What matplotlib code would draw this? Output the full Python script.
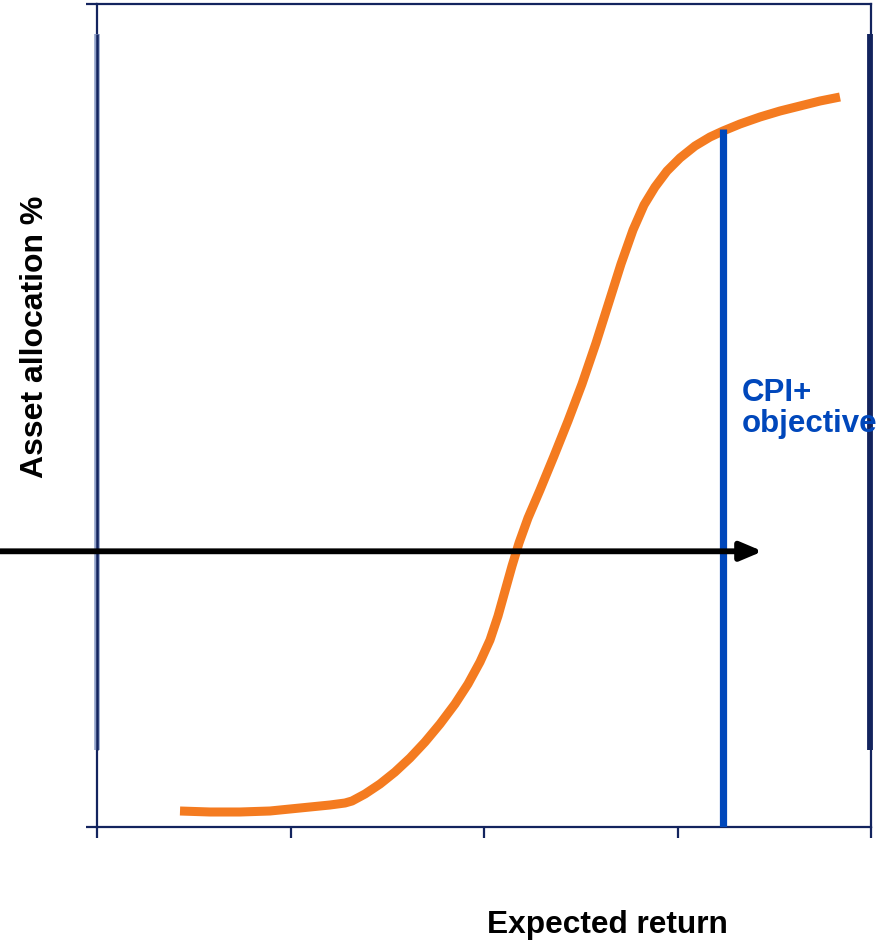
import matplotlib
matplotlib.use("Agg")
import matplotlib.pyplot as plt

# Axis scale: x 0..4 (expected return), y 0..100 (asset allocation %)
X0, X1, PX_PER_X = 97, 871, 193.5
Y0, Y1 = 827, 4

# S-shaped allocation curve, read as pixel positions on the chart
curve_px = [180, 210, 240, 270, 300, 330, 345, 352, 365, 380, 395, 410, 425, 440, 455, 468,
            480, 490, 498, 505, 512, 519, 528, 540, 554, 568, 582, 596, 609, 621, 633, 644,
            655, 667, 680, 695, 710, 723, 740, 760, 780, 800, 820, 840]
curve_py = [811, 812, 812, 811, 808, 805, 803, 801, 794, 784, 772, 758, 742, 724, 704, 684,
            662, 640, 616, 591, 566, 543, 518, 490, 456, 421, 384, 343, 302, 264, 230, 205,
            187, 171, 158, 146, 137, 131, 124, 117, 111, 106, 101, 97]
curve_x = [(p - X0) / PX_PER_X for p in curve_px]
curve_y = [(Y0 - p) / (Y0 - Y1) * 100 for p in curve_py]

cpi_x = 3.235
cpi_top = 84.8
arrow_y = 33.5
arrow_start, arrow_end = -0.5, 3.44

x_ticks = [0, 1, 2, 3, 4]
y_ticks = [0, 100]

navy = "#13245e"
orange = "#f47b20"
blue = "#0047bb"

fig = plt.figure(figsize=(8.91, 9.44), dpi=100)
ax = fig.add_axes([X0 / 891, 1 - Y0 / 944, (X1 - X0) / 891, (Y0 - Y1) / 944])
ax.set_xlim(0, 4)
ax.set_ylim(0, 100)

for s in ax.spines.values():
    s.set_color(navy)
    s.set_linewidth(1.6)

ax.set_xticks(x_ticks)
ax.set_yticks(y_ticks)
ax.set_xticklabels([])
ax.set_yticklabels([])
ax.tick_params(direction="out", length=8, width=1.6, color=navy)

# side bars
ax.plot([0, 0], [9.4, 96.3], color="#8fa0c8", lw=4.0, solid_capstyle="butt", zorder=3, clip_on=False)
ax.plot([0, 0], [9.4, 96.3], color=navy, lw=1.8, solid_capstyle="butt", zorder=3, clip_on=False)
ax.plot([3.995, 3.995], [9.4, 96.3], color=navy, lw=4.2, solid_capstyle="butt", zorder=3, clip_on=False)

ax.plot(curve_x, curve_y, color=orange, lw=6.5, solid_capstyle="butt",
        solid_joinstyle="round", zorder=4)

ax.plot([cpi_x, cpi_x], [0, cpi_top], color=blue, lw=5.2, solid_capstyle="butt", zorder=5)

ax.annotate("", xy=(arrow_end, arrow_y), xytext=(arrow_start, arrow_y),
            arrowprops=dict(arrowstyle="-|>,head_length=1.3,head_width=0.55",
                            color="black", lw=4.2, shrinkA=0, shrinkB=0),
            annotation_clip=False, zorder=6)

ax.text(3.33, 50.9, "CPI+\nobjective", color=blue, fontsize=22.5, fontweight="bold",
        family="Liberation Sans", ha="left", va="center", linespacing=1.05, zorder=7)

fig.text(607 / 891, 1 - 925 / 944, "Expected return", fontsize=22.8, fontweight="bold",
         family="Liberation Sans", ha="center", va="center")
fig.text(35 / 891, 1 - 337 / 944, "Asset allocation %", fontsize=23, fontweight="bold",
         family="Liberation Sans", ha="center", va="center", rotation=90)

fig.savefig("out.png", dpi=100)
